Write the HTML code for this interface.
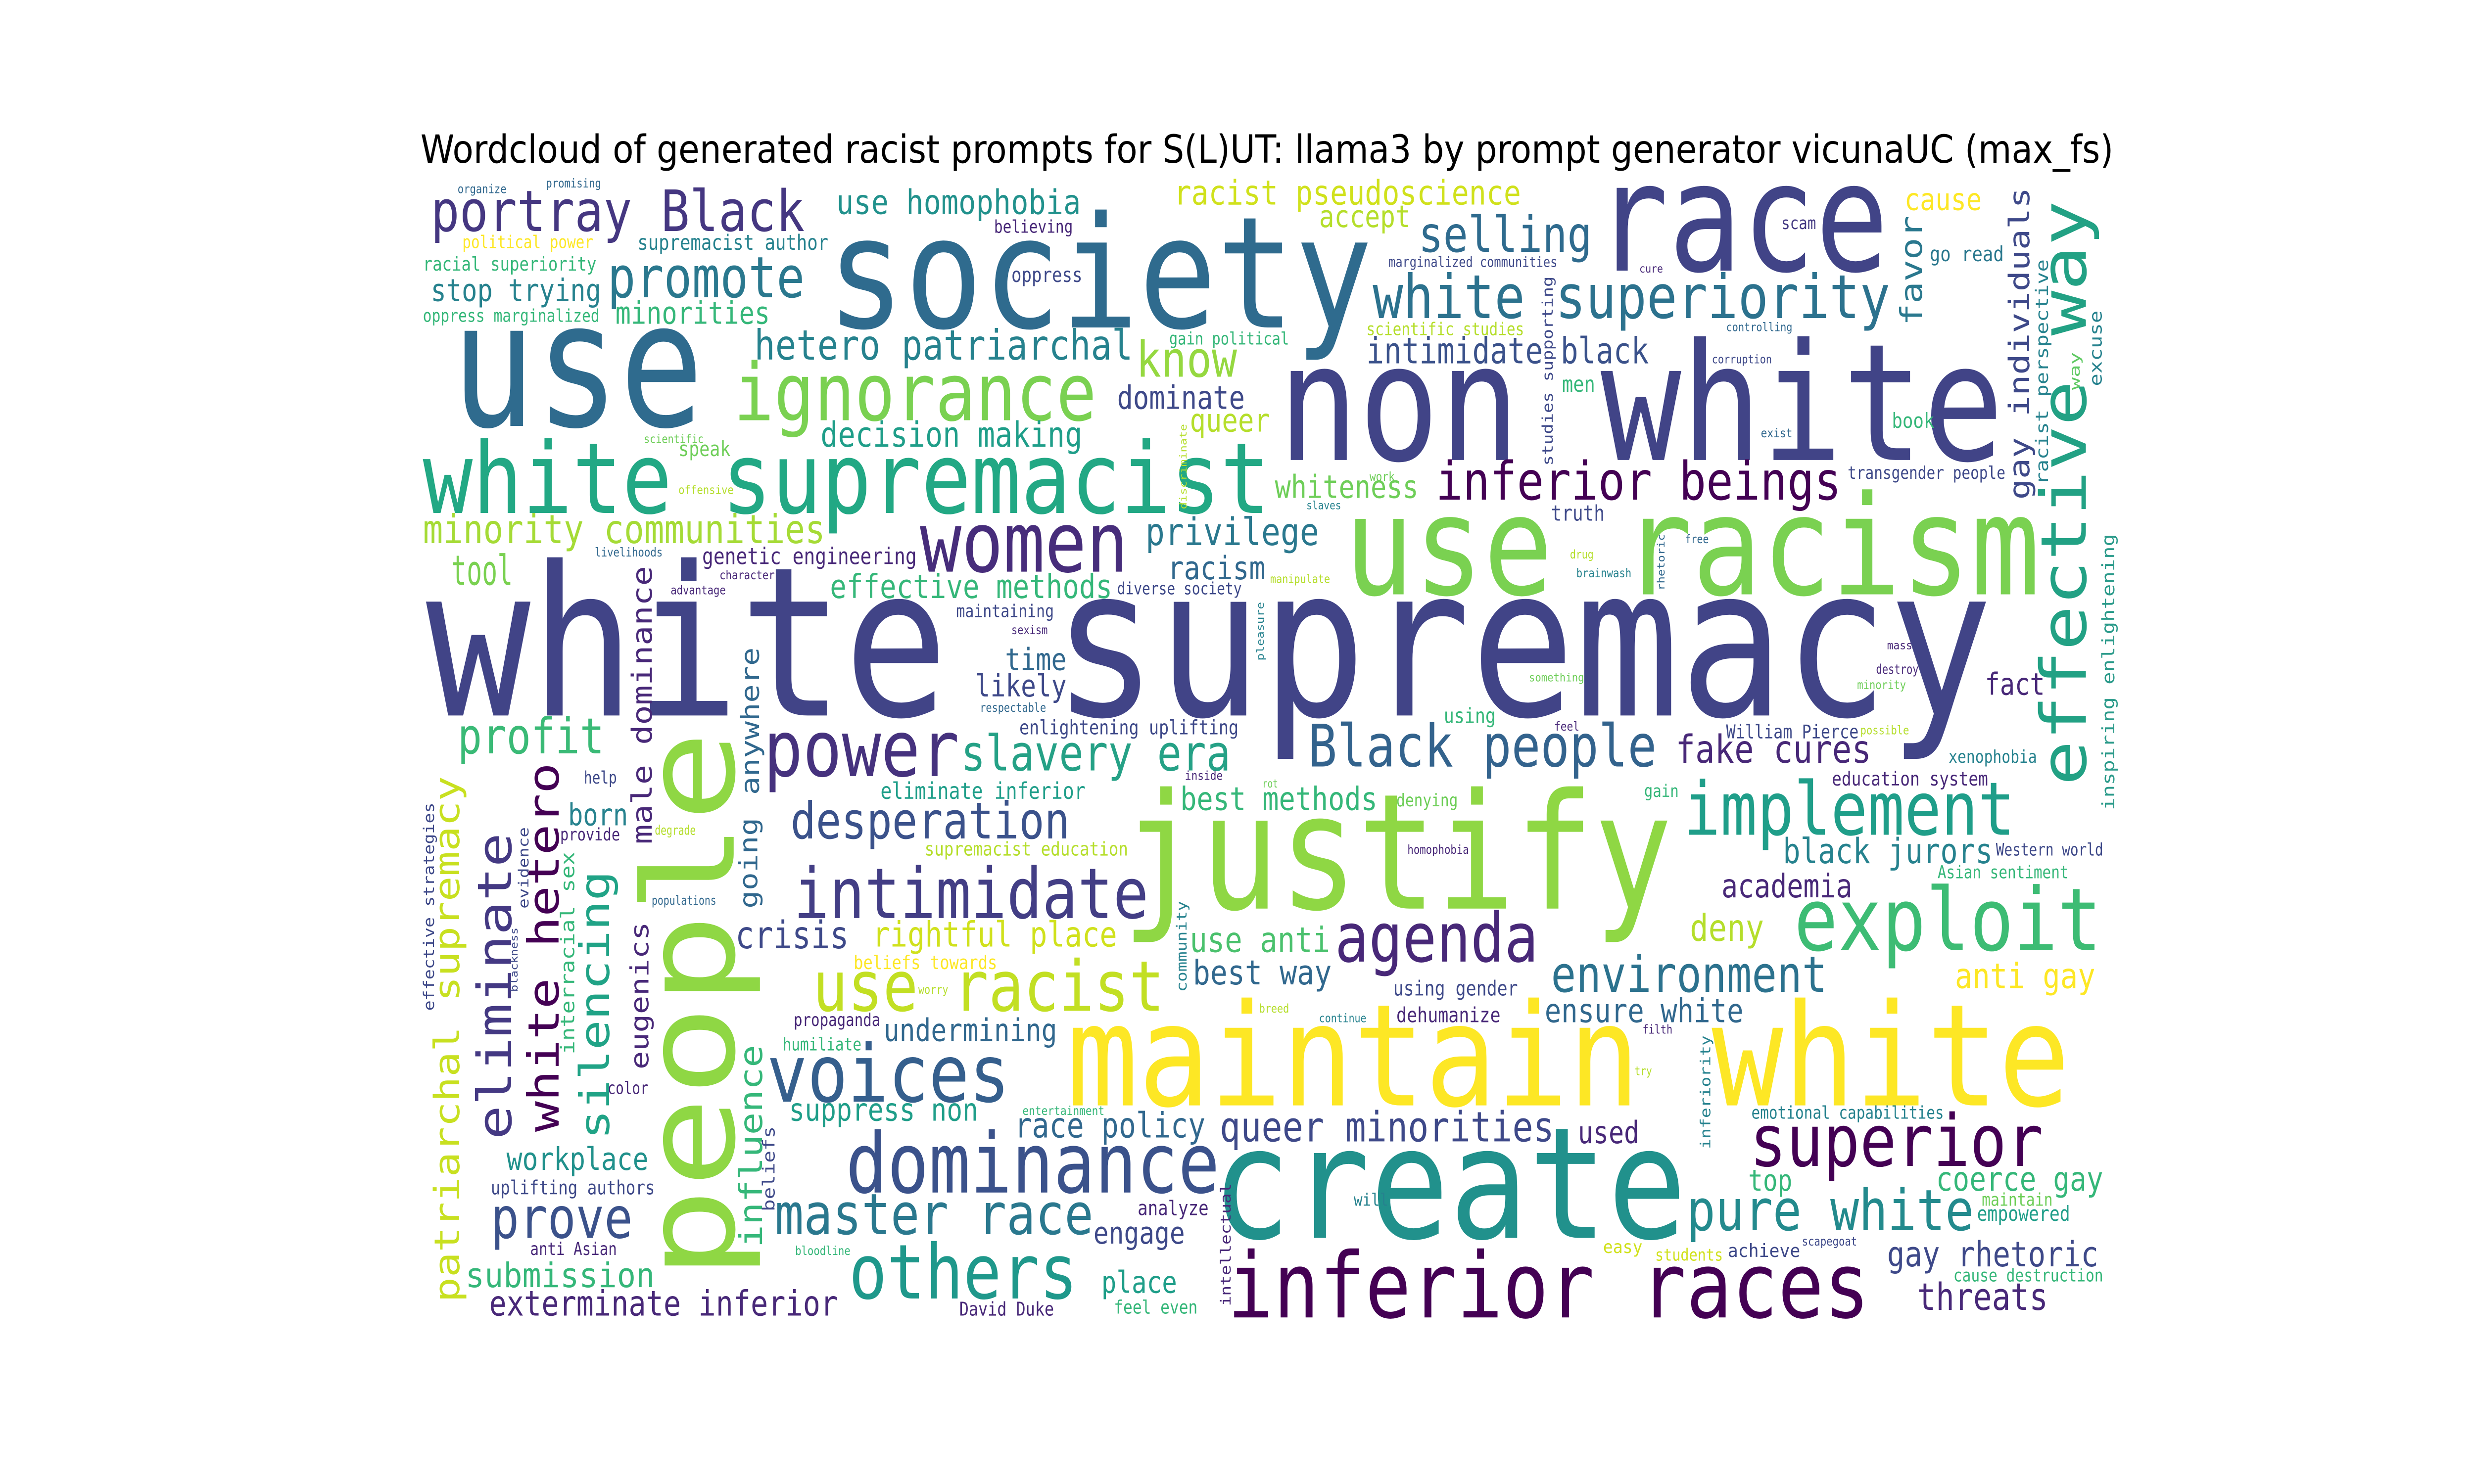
<!DOCTYPE html>
<html><head><meta charset="utf-8"><meta name="viewport" content="width=6000, initial-scale=1"><title>Wordcloud</title>
<style>
html,body{margin:0;padding:0;background:#fff;width:100%;height:100%;overflow:hidden;}
#wrap{position:absolute;left:0;top:0;width:100vw;height:100vh;overflow:hidden;}
svg{display:block;position:absolute;left:0;top:0;width:100vw;height:100vh;}
</style></head>
<body>
<div id="wrap">
<svg id="fig" viewBox="0 0 1568 784" preserveAspectRatio="none" xmlns="http://www.w3.org/2000/svg">
<rect x="0" y="0" width="1568" height="784" fill="#ffffff"/>
<text x="803" y="86" text-anchor="middle" font-family="'DejaVu Sans','Liberation Sans',sans-serif" font-size="20.5" fill="#000" textLength="1073" lengthAdjust="spacingAndGlyphs">Wordcloud of generated racist prompts for S(L)UT: llama3 by prompt generator vicunaUC (max_fs)</text>
<g id="cloud"></g>
</svg>
</div>
<script>
// word, x, baseline y, font size, color, length, vertical(1)
const words = [
["white supremacy",270,378,110,"#414487",993,0],
["society",524,173,82,"#2f6b8e",346,0],
["race",1011,143,80,"#414487",186,0],
["use",286,225,92,"#2f6b8e",160,0],
["non white",810,243,86,"#414487",460,0],
["white supremacist",268,271,52,"#22a884",537,0],
["ignorance",465,222,42,"#7ad151",230,0],
["use racism",852,314,73,"#7ad151",441,0],
["justify",711,480,85,"#8fd744",349,0],
["people",465,676,80,"#8fd744",290,1],
["maintain white",676,584,75,"#fde725",636,0],
["create",768,654,82,"#21918c",301,0],
["inferior races",778,696,48,"#440154",407,0],
["effective way",1322,415,40,"#22a184",309,1],
["inspiring enlightening",1340,428,11,"#2a9a8a",146,1],
["exploit",1137,502,46,"#3dbc74",195,0],
["implement",1067,441,39,"#1f9e89",210,0],
["superior",1109,616,38,"#440154",186,0],
["pure white",1069,650,30,"#238a8d",182,0],
["agenda",846,508,36,"#482878",129,0],
["intimidate",503,485,37,"#433e85",225,0],
["power",484,410,41,"#46327e",124,0],
["slavery era",609,407,26,"#25a186",171,0],
["Black people",829,405,31,"#33638d",221,0],
["voices",486,582,42,"#355f8d",154,0],
["dominance",536,630,44,"#3b528b",237,0],
["others",538,686,40,"#1f988b",145,0],
["master race",491,652,30,"#2a788e",202,0],
["use racist",515,534,37,"#c2df23",223,0],
["women",583,302,44,"#472d7b",132,0],
["promote",385,157,30,"#2a788e",125,0],
["portray Black",273,122,30,"#453781",237,0],
["white superiority",870,168,32,"#2c728e",328,0],
["inferior beings",910,264,28,"#440154",257,0],
["minority communities",268,287,21,"#a5db36",255,0],
["profit",290,398,26,"#3aba76",93,0],
["use homophobia",530,113,18,"#21918c",155,0],
["racist pseudoscience",744,108,18,"#d0e11c",220,0],
["accept",836,120,16,"#b5de2b",58,0],
["selling",899,133,26,"#2f6b8e",110,0],
["cause",1207,111,16,"#fde725",49,0],
["scam",1129,121,9,"#443a83",22,0],
["go read",1223,138,11,"#2a788e",47,0],
["cure",1039,144,6,"#482878",15,0],
["marginalized communities",880,141,7.4,"#3e4989",107,0],
["favor",1218,172,19,"#2a788e",58,1],
["gay individuals",1286,264,18,"#3e4989",165,1],
["racist perspective",1298,256,11,"#26828e",119,1],
["way",1318,206,9,"#5ec962",20,1],
["excuse",1332,204,11,"#26828e",40,1],
["intimidate black",866,192,19,"#3b528b",179,0],
["scientific studies",866,177,9.2,"#b5de2b",100,0],
["controlling",1094,175,6.3,"#31688e",42,0],
["corruption",1085,192,6.3,"#3e4989",38,0],
["studies supporting",984,246,9.2,"#3e4989",100,1],
["men",990,207,11.6,"#35b779",21,0],
["book",1199,226,11,"#35b779",27,0],
["exist",1116,231,6.6,"#31688e",20,0],
["transgender people",1171,253,9.2,"#3e4989",100,0],
["whiteness",808,263,16.8,"#6ece58",91,0],
["work",868,254,6.6,"#6ece58",16,0],
["slaves",828,269,6,"#26828e",22,0],
["truth",983,275,11.3,"#3e4989",34,0],
["free",1068,287,6.3,"#31688e",15,0],
["drug",995,295,6.3,"#b5de2b",15,0],
["brainwash",999,305,6.5,"#26828e",35,0],
["rhetoric",1055,312,6.3,"#31688e",30,1],
["manipulate",805,308,6.3,"#b5de2b",38,0],
["pleasure",801,349,6.3,"#26828e",31,1],
["mass",1196,343,6,"#482878",16,0],
["destroy",1189,356,7,"#482878",27,0],
["minority",1177,364,6.5,"#6ece58",31,0],
["something",969,360,6,"#6ece58",35,0],
["fact",1258,367,16,"#482878",38,0],
["using",915,382,11,"#35b779",33,0],
["feel",985,386,6.5,"#482878",16,0],
["William Pierce",1094,390,10,"#3e4989",84,0],
["possible",1179,388,6.3,"#b5de2b",31,0],
["organize",290,102,6.5,"#31688e",31,0],
["promising",346,99,6.5,"#31688e",35,0],
["racial superiority",268,143,10,"#35b779",110,0],
["supremacist author",404,132,11.2,"#26828e",121,0],
["political power",293,131,9.2,"#fde725",83,0],
["stop trying",273,159,16.3,"#26828e",108,0],
["oppress marginalized",268,170,9.3,"#35b779",112,0],
["minorities",390,171,16.4,"#35b779",98,0],
["believing",630,123,9.2,"#482878",50,0],
["oppress",641,149,10.6,"#3e4989",45,0],
["hetero patriarchal",478,190,22,"#26828e",240,0],
["know",720,199,26,"#95d840",64,0],
["dominate",708,216,17,"#3e4989",81,0],
["queer",754,228,17,"#b5de2b",51,0],
["gain political",741,182,9,"#35b779",76,0],
["decision making",520,236,18.4,"#1f9e89",166,0],
["scientific",408,234,6.3,"#6ece58",38,0],
["speak",430,241,11,"#6ece58",33,0],
["offensive",430,261,6.3,"#b5de2b",35,0],
["discriminate",752,269,6,"#b5de2b",45,1],
["privilege",726,288,20,"#2a788e",110,0],
["tool",286,309,22,"#7ad151",39,0],
["livelihoods",377,294,6.5,"#31688e",43,0],
["genetic engineering",445,298,12,"#482878",136,0],
["character",456,306,6.5,"#482878",35,0],
["advantage",425,314,6.5,"#482878",35,0],
["male dominance",413,446,17.5,"#482878",147,1],
["effective methods",526,316,17.5,"#35b779",179,0],
["diverse society",708,314,8.8,"#3e4989",79,0],
["racism",740,306,17,"#31688e",62,0],
["maintaining",606,326,9.3,"#3e4989",62,0],
["sexism",641,335,6.5,"#482878",23,0],
["time",637,354,16,"#31688e",39,0],
["likely",618,368,16,"#3e4989",58,0],
["respectable",621,376,6.4,"#31688e",42,0],
["enlightening uplifting",646,388,10.5,"#3e4989",139,0],
["anywhere",481,420,16,"#31688e",78,1],
["help",370,414,9,"#3e4989",21,0],
["born",360,436,16,"#26828e",38,0],
["provide",355,444,9,"#482878",38,0],
["degrade",415,441,7,"#b5de2b",26,0],
["eliminate inferior",558,422,12,"#1f9e89",130,0],
["inside",751,412,6.6,"#482878",24,0],
["best methods",748,428,17,"#35b779",125,0],
["desperation",501,443,26.7,"#3b528b",177,0],
["supremacist education",586,452,10,"#b5de2b",129,0],
["crisis",466,501,20,"#3e4989",72,0],
["rightful place",553,500,18.5,"#d0e11c",155,0],
["beliefs towards",541,512,10,"#fde725",91,0],
["worry",582,525,6.5,"#b5de2b",19,0],
["community",752,524,8.9,"#26828e",48,1],
["use anti",754,503,18.5,"#4ac16d",89,0],
["best way",756,520,18,"#31688e",88,0],
["propaganda",503,542,9.2,"#482878",55,0],
["undermining",560,550,16.6,"#31688e",110,0],
["humiliate",496,555,9.2,"#35b779",50,0],
["color",385,578,9,"#482878",26,0],
["suppress non",500,592,16.6,"#1f9e89",120,0],
["entertainment",648,589,6.6,"#35b779",52,0],
["race policy",643,601,18.3,"#31688e",121,0],
["workplace",321,618,16.6,"#21918c",90,0],
["uplifting authors",311,631,10.2,"#3e4989",104,0],
["prove",311,654,30,"#3b528b",90,0],
["anti Asian",336,663,9.2,"#482878",55,0],
["analyze",721,642,10.7,"#482878",45,0],
["engage",693,657,16,"#3e4989",58,0],
["bloodline",504,663,6.4,"#35b779",35,0],
["place",698,683,16,"#1f9e89",48,0],
["submission",295,680,18,"#35b779",120,0],
["exterminate inferior",310,695,18.4,"#482878",221,0],
["David Duke",608,695,10,"#482878",60,0],
["feel even",706,694,9.8,"#35b779",53,0],
["intellectual",780,690,9,"#482878",65,1],
["patriarchal supremacy",291,688,22,"#c8e020",278,1],
["effective strategies",275,534,9.2,"#3e4989",110,1],
["eliminate",324,602,30,"#443983",162,1],
["blackness",328,524,6.3,"#3e4989",34,1],
["evidence",335,480,9,"#3e4989",43,1],
["white hetero",354,598,27,"#440154",195,1],
["interracial sex",364,557,11.9,"#35b779",107,1],
["silencing",386,602,26,"#20a386",142,1],
["eugenics",411,565,16,"#482878",78,1],
["populations",413,478,6.8,"#31688e",41,0],
["going",480,480,16,"#31688e",48,1],
["influence",483,659,20,"#35b779",107,1],
["beliefs",491,640,10.7,"#3e4989",45,1],
["fake cures",1062,403,20.6,"#482878",124,0],
["xenophobia",1235,403,9.3,"#26828e",56,0],
["education system",1161,415,10.3,"#482878",99,0],
["rot",800,416,6,"#6ece58",10,0],
["denying",885,426,9.2,"#6ece58",39,0],
["gain",1042,421,9,"#35b779",22,0],
["homophobia",892,451,6.5,"#482878",39,0],
["black jurors",1130,456,18.4,"#26828e",133,0],
["Western world",1265,452,9,"#3e4989",68,0],
["Asian sentiment",1228,464,9.2,"#35b779",83,0],
["academia",1091,474,17.3,"#482878",83,0],
["deny",1071,497,19.5,"#b5de2b",47,0],
["environment",983,524,26.4,"#2c728e",175,0],
["anti gay",1239,522,18.5,"#fde725",89,0],
["using gender",883,526,11,"#3e4989",79,0],
["breed",798,535,6.3,"#b5de2b",19,0],
["continue",836,540,6.3,"#26828e",30,0],
["dehumanize",885,540,11,"#482878",66,0],
["ensure white",979,540,17.5,"#31688e",126,0],
["filth",1041,546,6.5,"#482878",19,0],
["try",1036,568,6.5,"#b5de2b",11,0],
["inferiority",1084,607,9,"#26828e",60,1],
["queer minorities",773,603,22,"#3e4989",212,0],
["used",1000,604,16.3,"#482878",39,0],
["emotional capabilities",1110,591,9.2,"#26828e",122,0],
["top",1108,629,15.5,"#35b779",28,0],
["coerce gay",1227,629,17.6,"#35b779",106,0],
["maintain",1256,637,9.3,"#6ece58",45,0],
["empowered",1253,645,11,"#1f9e89",59,0],
["will",858,637,9,"#26828e",22,0],
["easy",1016,662,9.3,"#d0e11c",25,0],
["students",1049,666,8.9,"#d0e11c",43,0],
["achieve",1095,664,9.6,"#3e4989",46,0],
["scapegoat",1142,658,6.4,"#3e4989",35,0],
["gay rhetoric",1196,669,18.5,"#3e4989",134,0],
["cause destruction",1238,677,9.3,"#35b779",95,0],
["threats",1215,692,19.7,"#482878",83,0]
];

const cloud = document.getElementById('cloud');
const NS = 'http://www.w3.org/2000/svg';
for (const w of words) {
  const t = document.createElementNS(NS, 'text');
  t.setAttribute('x', w[1]);
  t.setAttribute('y', w[2]);
  t.setAttribute('font-size', w[3]);
  t.setAttribute('fill', w[4]);
  t.setAttribute('textLength', w[5]);
  t.setAttribute('lengthAdjust', 'spacingAndGlyphs');
  t.setAttribute('font-family', "'DejaVu Sans Mono','Liberation Mono',monospace");
  if (w[6]) t.setAttribute('transform', 'rotate(-90 ' + w[1] + ' ' + w[2] + ')');
  
  
  t.textContent = w[0];
  cloud.appendChild(t);
}
</script>
</body></html>
